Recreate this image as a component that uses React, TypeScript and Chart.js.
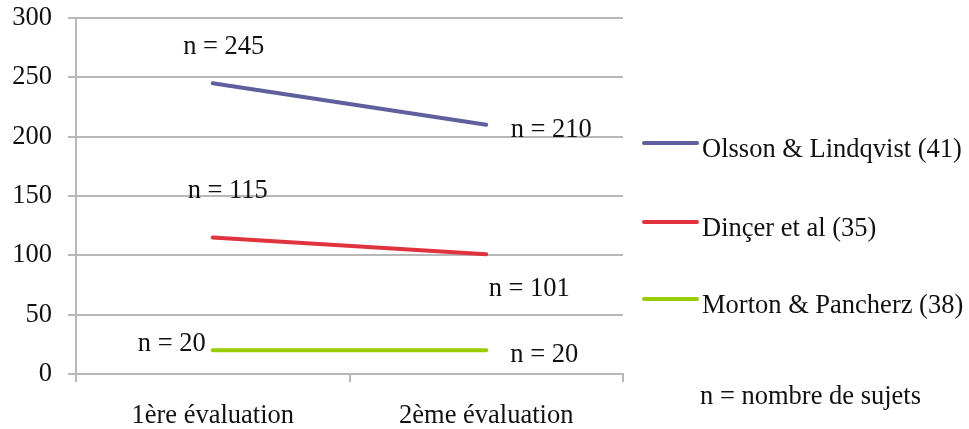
import React, { useEffect, useRef } from "react";
import { Chart, registerables } from "chart.js";

Chart.register(...registerables);

const categories = ["1ère évaluation", "2ème évaluation"];
const seriesNames = ["Olsson & Lindqvist (41)", "Dinçer et al (35)", "Morton & Pancherz (38)"];
const olsson = [245, 210];
const dincer = [115, 101];
const morton = [20, 20];
const yTicks = [0, 50, 100, 150, 200, 250, 300];
const footnote = "n = nombre de sujets";

const colors = ["#5f5f9f", "#e0333e", "#99cc00"];
// label offsets (style only): [dx, dy] per series per point
const labelOffsets = [
  [[11, -37], [65, 4]],
  [[15, -47], [43, 34]],
  [[-41, -7], [58, 4]],
];

const FONT = "'Liberation Serif', 'Times New Roman', serif";
const FS = 26.5;
const GRID = "#b8b8b8";

const overlayPlugin = {
  id: "overlay",
  afterDatasetsDraw(chart: any) {
    const ctx = chart.ctx;
    ctx.save();
    ctx.font = `${FS}px ${FONT}`;
    ctx.fillStyle = "#111";
    ctx.textAlign = "center";
    ctx.textBaseline = "middle";
    chart.data.datasets.forEach((ds: any, i: number) => {
      const meta = chart.getDatasetMeta(i);
      meta.data.forEach((pt: any, j: number) => {
        const [dx, dy] = labelOffsets[i][j];
        ctx.fillText(`n = ${ds.data[j]}`, pt.x + dx, pt.y + dy + 1);
      });
    });
    // legend
    const legendY = [143, 222, 299];
    ctx.textAlign = "left";
    chart.data.datasets.forEach((ds: any, i: number) => {
      ctx.strokeStyle = ds.borderColor;
      ctx.lineWidth = 4;
      ctx.lineCap = "round";
      ctx.beginPath();
      ctx.moveTo(644, legendY[i]);
      ctx.lineTo(697, legendY[i]);
      ctx.stroke();
      ctx.fillText(ds.label, 702, legendY[i] + 7);
    });
    ctx.fillText(footnote, 700, 397);
    ctx.restore();
  },
};

export default function App() {
  const ref = useRef<HTMLCanvasElement>(null);
  useEffect(() => {
    if (!ref.current) return;
    const series = [olsson, dincer, morton];
    const chart = new Chart(ref.current, {
      type: "line",
      data: {
        labels: categories,
        datasets: series.map((d, i) => ({
          label: seriesNames[i],
          data: d,
          borderColor: colors[i],
          backgroundColor: colors[i],
          borderWidth: 4,
          borderCapStyle: "round" as const,
          pointRadius: 0,
          tension: 0,
        })),
      },
      options: {
        responsive: false,
        animation: false,
        devicePixelRatio: 1,
        layout: { padding: { top: 18, right: 346, bottom: 0, left: 0 } },
        plugins: { legend: { display: false }, tooltip: { enabled: false } },
        scales: {
          x: {
            type: "category",
            offset: true,
            grid: {
              offset: true,
              drawOnChartArea: false,
              drawTicks: true,
              tickLength: 8,
              color: GRID,
              lineWidth: 2,
            },
            border: { color: GRID, width: 2 },
            ticks: { color: "#111", font: { family: FONT, size: FS }, padding: 18, maxRotation: 0 },
            afterFit: (s: any) => {
              s.height = 429 - 374;
            },
          },
          y: {
            min: 0,
            max: 300,
            afterBuildTicks: (s: any) => {
              s.ticks = yTicks.map((v) => ({ value: v }));
            },
            grid: { color: GRID, lineWidth: 2, tickLength: 8, drawTicks: true },
            border: { color: GRID, width: 2 },
            ticks: { color: "#111", font: { family: FONT, size: FS }, padding: 16 },
            afterFit: (s: any) => {
              s.width = 76;
              s.paddingTop = 0;
              s.paddingBottom = 0;
            },
          },
        },
      },
      plugins: [overlayPlugin],
    });
    return () => chart.destroy();
  }, []);
  return (
    <div style={{ position: "fixed", left: 0, top: 0, width: 969, height: 429, background: "#fff" }}>
      <canvas ref={ref} width={969} height={429} style={{ width: 969, height: 429 }} />
    </div>
  );
}
